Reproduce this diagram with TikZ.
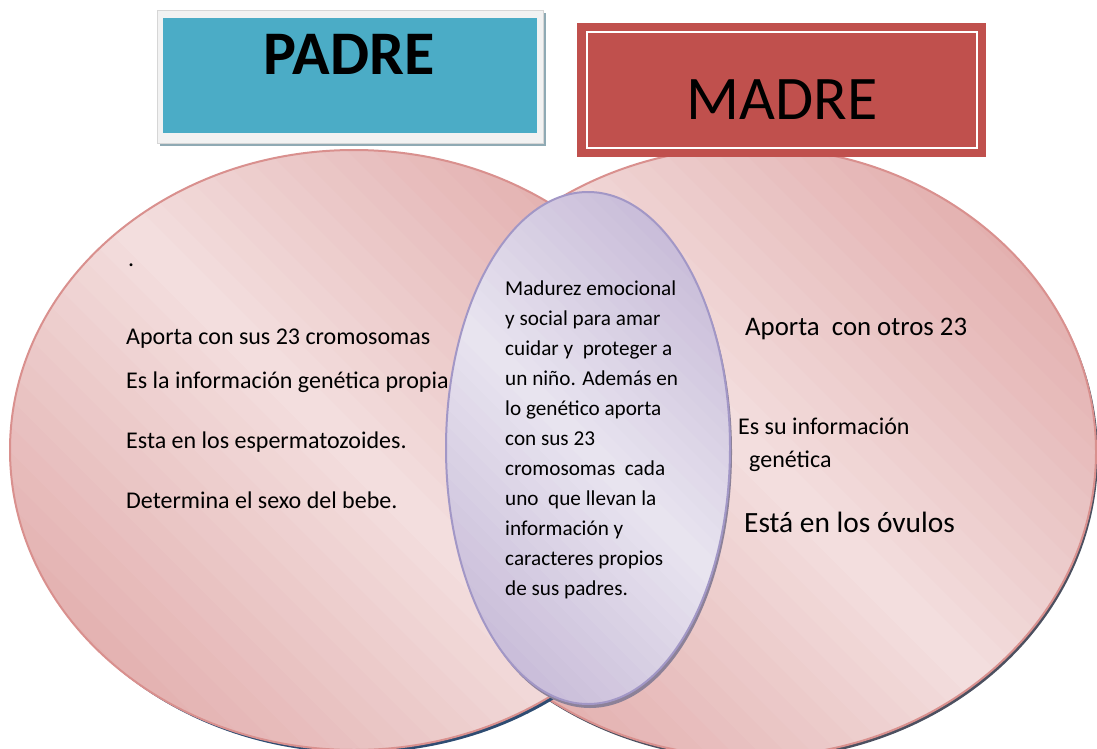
\documentclass[tikz,border=0pt]{standalone}
\usepackage{fontspec}
\setmainfont{Carlito}
\definecolor{padreblue}{HTML}{4BACC6}
\definecolor{framegray}{HTML}{F2F2F2}
\definecolor{frameedge}{HTML}{D6D6D6}
\definecolor{padreshadow}{HTML}{8FAAB4}
\definecolor{madrered}{HTML}{C0504D}
\definecolor{pinkdark}{HTML}{DC9C9B}
\definecolor{pinklight}{HTML}{F3DFDF}
\definecolor{pinkline}{HTML}{D9908E}
\definecolor{lavdark}{HTML}{BAAACE}
\definecolor{lavlight}{HTML}{E9E5F0}
\definecolor{lavline}{HTML}{A297C6}
\definecolor{blueshadow}{HTML}{2E4C72}
\definecolor{grayshadow}{HTML}{4C5060}
\definecolor{lavshadow}{HTML}{8C8198}
\newcommand\gradblob[7]{% centre, rx, ry, dark, light, outline, half-length
  \begin{scope}[shift={(#1)}]
    \begin{scope}
      \clip (0,0) ellipse [x radius=#2, y radius=#3];
      \begin{scope}[rotate=45]
        \foreach \i in {0,...,49}{
          \pgfmathsetmacro\gpos{-1+\i*0.04}
          \pgfmathsetmacro\gmix{100*(1-abs(\gpos+0.02))}
          \fill[#5!\gmix!#4] ({\gpos*#7},-#7) rectangle ({(\gpos+0.05)*#7},#7);
        }
      \end{scope}
    \end{scope}
    \draw[#6, line width=2pt] (0,0) ellipse [x radius=#2, y radius=#3];
  \end{scope}
}
\tikzset{
  txt/.style={anchor=base west, inner sep=0pt, font=\fontsize{#1}{#1}\selectfont},
}
\begin{document}
\begin{tikzpicture}[x=1pt,y=1pt]
\useasboundingbox (0,-749) rectangle (1097,0);
\clip (0,-749) rectangle (1097,0);
\coordinate (rc) at (751,-452);
\coordinate (lc) at (354,-450);
\coordinate (cc) at (588,-448);
% right ellipse
\fill[grayshadow] ([shift={(2,-3)}]rc) ellipse [x radius=345, y radius=305];
\gradblob{rc}{345}{305}{pinkdark}{pinklight}{pinkline}{470}
% left ellipse
\fill[blueshadow] ([shift={(3,-3)}]lc) ellipse [x radius=344, y radius=300];
\gradblob{lc}{344}{300}{pinkdark}{pinklight}{pinkline}{470}
% centre ellipse
\fill[lavshadow] ([shift={(2,-4)}]cc) ellipse [x radius=142, y radius=256];
\gradblob{cc}{142}{256}{lavdark}{lavlight}{lavline}{300}
% PADRE title
\node[fill=padreshadow, inner sep=0pt, minimum width=386pt, minimum height=133pt] (padreshad) at (353,-79.5) {};
\node[fill=framegray, draw=frameedge, line width=0.8pt, inner sep=0pt, minimum width=386pt, minimum height=133pt] (padreframe) at (350,-76.5) {};
\node[fill=padreblue, inner sep=0pt, minimum width=374pt, minimum height=115pt] (padrebox) at (350,-75.5) {};
\node[anchor=base, inner sep=0pt, font=\fontsize{62}{62}\selectfont\bfseries] (padre) at (349,-75) {PADRE};
% MADRE title
\node[fill=madrered, inner sep=0pt, minimum width=409pt, minimum height=134pt] (madrebox) at (781.5,-90) {};
\node[draw=white, line width=2pt, inner sep=0pt, minimum width=390pt, minimum height=116pt] (madreline) at (782,-90) {};
\node[anchor=base, inner sep=0pt, font=\fontsize{62}{62}\selectfont] (madre) at (782,-120) {MADRE};
% left texts
\node[txt=24] (dot) at (128,-266) {.};
\node[txt=24] (l1) at (126,-344) {Aporta con sus 23 cromosomas};
\node[txt=24] (l2) at (126,-388) {Es la información genética propia};
\node[txt=24] (l3) at (126,-448) {Esta en los espermatozoides.};
\node[txt=24] (l4) at (126,-508) {Determina el sexo del bebe.};
% centre texts
\foreach \t [count=\i] in {Madurez emocional,
  y social para amar,
  cuidar y\ \ proteger a,
  un niño. Además en,
  lo genético aporta,
  con sus 23,
  cromosomas\ \ cada,
  uno\ \ que llevan la,
  información y,
  caracteres propios,
  de sus padres.}{
  \node[txt=21.2] (c\i) at (505,{-265-30*\i}) {\t};
}
% right texts
\node[txt=26.8] (r1) at (745,-335) {Aporta\ \ con otros 23};
\node[txt=24] (r2) at (738,-434) {Es su información};
\node[txt=24] (r3) at (749,-467) {genética};
\node[txt=29.4] (r4) at (744,-532) {Está en los óvulos};
\end{tikzpicture}
\end{document}
